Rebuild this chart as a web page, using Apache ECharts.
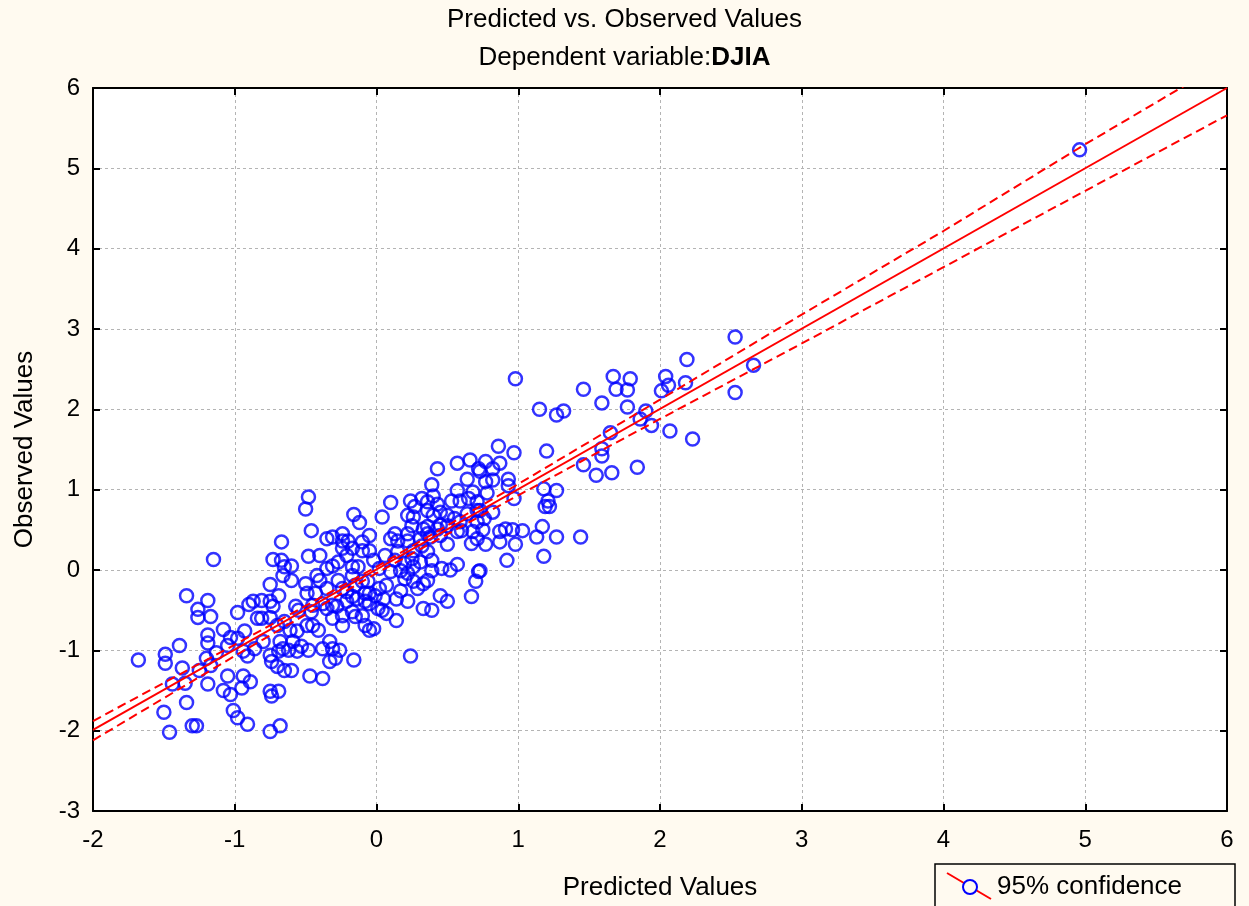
<!DOCTYPE html>
<html><head><meta charset="utf-8">
<script src="https://cdn.jsdelivr.net/npm/echarts@6/dist/echarts.min.js"></script>
<style>html,body{margin:0;padding:0;background:#fffaf0;}#c{width:1249px;height:906px;}</style>
</head><body><div id="c"></div>
<script>
// ---------- DATA ----------
const predicted = [
 -1.15,-0.73,-0.75,-1.34,-1.19,-1.26,-1.26,-1.17,-0.98,-0.90,-0.87,-0.81,-0.75,-0.73,-0.69,-0.81,-0.75,-0.70,-1.08,-0.93,
 -1.03,-1.19,-1.19,-1.39,-1.49,-1.49,-1.68,-1.13,-1.05,-1.20,-1.17,-1.37,-1.44,-1.35,-1.25,-1.19,-1.05,-1.08,-1.03,-0.94,
 -0.95,-0.89,-0.98,-0.94,-0.91,-0.86,-0.80,-0.75,-0.74,-0.69,-0.70,-0.75,-0.74,-0.69,-1.34,-1.50,-1.01,-0.98,-0.91,-1.46,
 -1.30,-1.27,-0.75,-0.68,-0.84,
 -0.48,-0.50,-0.16,-0.12,-0.46,-0.35,-0.31,-0.24,-0.24,-0.20,-0.10,-0.05,-0.05,-0.17,-0.24,-0.21,-0.67,-0.48,-0.40,-0.67,
 -0.65,-0.60,-0.35,-0.31,-0.27,-0.17,-0.13,-0.17,-0.10,-0.02,-0.66,-0.60,-0.50,-0.42,-0.40,-0.35,-0.49,-0.43,-0.27,-0.24,
 -0.21,-0.15,-0.10,-0.06,-0.08,-0.05,-0.57,-0.55,-0.46,-0.45,-0.38,-0.35,-0.31,-0.28,-0.21,-0.17,-0.14,-0.08,-0.05,0.01,
 -0.01,-0.65,-0.61,-0.56,-0.49,-0.45,-0.41,-0.31,-0.24,-0.24,-0.17,-0.15,-0.10,-0.08,-0.05,-0.02,-0.66,-0.62,-0.59,-0.56,
 -0.53,-0.48,-0.38,-0.33,-0.31,-0.26,-0.29,-0.33,-0.16,-0.65,-0.60,-0.47,-0.38,0.14,0.24,-0.68,
 0.57,0.66,0.43,0.72,0.64,0.39,0.40,0.57,0.68,0.10,0.24,0.32,0.36,0.53,0.59,0.45,0.50,0.55,0.64,0.71,
 0.04,0.22,0.26,0.43,0.45,0.33,0.36,0.13,0.22,0.22,0.68,0.67,0.50,0.26,0.32,0.36,0.06,0.13,0.15,0.25,
 0.31,0.39,0.10,0.17,0.22,0.39,0.46,0.52,0.57,0.72,0.70,0.36,0.26,0.29,0.07,0.17,0.14,0.22,0.33,0.39,
 0.45,0.50,0.67,0.04,0.07,
 0.27,0.43,0.65,0.71,0.36,0.40,0.25,0.50,0.59,0.71,0.10,0.15,0.31,0.36,0.38,0.45,0.57,0.60,0.71,0.02,
 0.20,0.26,0.02,0.20,0.33,0.05,
 2.53,2.19,0.98,1.67,1.79,2.04,2.06,2.01,2.18,1.46,1.69,1.77,2.53,1.15,1.27,1.32,1.59,1.77,1.90,1.86,
 1.94,2.07,2.23,1.65,1.59,1.59,1.20,1.46,1.55,1.66,1.84,0.86,0.97,0.77,0.87,0.73,0.93,0.82,0.77,0.78,
 0.97,1.18,1.27,1.21,1.19,1.22,0.82,0.76,0.73,0.75,0.87,0.91,0.96,1.03,1.13,1.17,1.27,1.44,0.77,0.87,
 0.98,0.92,1.18,0.73,2.66,4.96,0.82,0.93
];
const observed = [
 0.13,0.13,-0.18,-0.32,-0.38,-0.49,-0.59,-0.58,-0.53,-0.43,-0.39,-0.38,-0.39,-0.45,-0.32,-0.60,-0.59,-0.69,-0.74,-0.76,
 -0.84,-0.81,-0.91,-0.94,-1.05,-1.16,-1.12,-1.03,-0.94,-1.10,-1.19,-1.22,-1.42,-1.41,-1.25,-1.42,-1.32,-1.50,-1.55,-1.32,
 -1.47,-1.39,-0.85,-1.01,-1.07,-0.98,-0.89,-1.06,-1.14,-1.01,-1.20,-1.51,-1.57,-1.51,-1.65,-1.77,-1.75,-1.84,-1.92,-2.02,
 -1.94,-1.94,-2.01,-1.94,-0.60,
 0.91,0.76,0.69,0.59,0.49,0.39,0.41,0.45,0.36,0.36,0.35,0.43,0.24,0.27,0.27,0.18,0.35,0.17,0.18,0.12,
 0.04,0.05,0.02,0.05,0.10,0.04,0.04,-0.07,0.24,0.12,-0.07,-0.13,-0.17,-0.07,-0.13,-0.23,-0.29,-0.29,-0.13,-0.23,
 -0.27,-0.19,-0.14,-0.14,-0.29,-0.29,-0.45,-0.50,-0.52,-0.44,-0.42,-0.48,-0.44,-0.45,-0.39,-0.33,-0.36,-0.39,-0.42,-0.48,
 -0.32,-0.64,-0.75,-0.76,-0.69,-0.69,-0.75,-0.60,-0.57,-0.69,-0.52,-0.58,-0.57,-0.69,-0.75,-0.73,-0.98,-1.00,-0.89,-1.01,
 -0.95,-1.00,-0.98,-0.89,-0.98,-1.00,-1.10,-1.14,-1.12,-1.25,-1.25,-1.32,-1.35,-0.63,-1.07,-0.89,
 1.33,1.37,1.26,1.26,1.13,1.06,0.92,0.99,0.97,0.84,0.86,0.89,0.85,0.86,0.86,0.72,0.68,0.64,0.70,0.74,
 0.66,0.68,0.66,0.51,0.56,0.51,0.54,0.45,0.45,0.36,0.48,0.33,0.32,0.24,0.30,0.23,0.18,0.12,0.23,0.14,
 0.10,0.12,-0.02,-0.01,-0.04,-0.01,0.02,0.00,0.07,-0.02,-0.14,-0.13,-0.14,-0.23,-0.19,-0.26,-0.36,-0.39,-0.48,-0.50,
 -0.32,-0.39,-0.33,-0.50,-0.54,
 0.79,0.82,0.89,0.85,0.74,0.68,0.55,0.55,0.60,0.60,0.39,0.36,0.39,0.45,0.41,0.43,0.48,0.49,0.39,0.02,
 0.08,0.04,-0.23,-0.11,-0.17,-0.36,
 2.90,2.62,2.38,2.41,2.38,2.41,2.30,2.23,2.33,2.25,2.25,2.24,2.21,2.00,1.93,1.98,2.08,2.03,1.98,1.88,
 1.80,1.73,1.63,1.71,1.51,1.42,1.48,1.31,1.18,1.21,1.28,1.54,1.46,1.35,1.33,1.23,1.13,1.12,1.10,0.96,
 0.89,1.01,0.99,0.86,0.79,0.79,0.72,0.64,0.74,0.50,0.48,0.51,0.50,0.49,0.41,0.54,0.41,0.41,0.32,0.35,
 0.32,0.12,0.17,-0.01,2.55,5.23,1.26,1.05
];
// fitted line (observed = predicted)
const fitX = [-2, 6];
const fitY = [-1.99, 6.0];
// 95% confidence band read at integer predicted values
const bandX = [-2, -1, 0, 1, 2, 3, 4, 5, 6];
const bandUpper = [-1.88, -0.93, 0.04, 1.07, 2.12, 3.18, 4.22, 5.30, 6.34];
const bandLower = [-2.12, -1.07, -0.04, 0.93, 1.88, 2.82, 3.77, 4.72, 5.66];
const xRange = {min: -2, max: 6, interval: 1};
const yRange = {min: -3, max: 6, interval: 1};
const titleText = 'Predicted vs. Observed Values';
const subtitleLabel = 'Dependent variable:';
const subtitleVar = 'DJIA';
const xName = 'Predicted Values';
const yName = 'Observed Values';
const legendText = '95% confidence';

// ---------- CHART ----------
const FONT = '"Liberation Sans", Arial, sans-serif';
const BG = '#fffaf0';
const pts = predicted.map((p, i) => [p, observed[i]]);
const pairs = (xs, ys) => xs.map((x, i) => [x, ys[i]]);

const frameLine = {show: true, onZero: false, lineStyle: {color: '#000', width: 2}};
const tick = {show: true, inside: true, length: 7, lineStyle: {color: '#000', width: 2}};
const grid = {show: true, lineStyle: {color: '#b4b4b4', type: [3, 3], width: 1}};
const lbl = {fontFamily: FONT, fontSize: 24, color: '#000', showMinLabel: true, showMaxLabel: true};

const chart = echarts.init(document.getElementById('c'), null, {renderer: 'canvas'});
chart.setOption({
  backgroundColor: BG,
  animation: false,
  title: {
    text: titleText,
    subtext: subtitleLabel + '{b|' + subtitleVar + '}',
    left: 'center', top: 7, padding: 0, itemGap: 12,
    textStyle: {fontFamily: FONT, fontSize: 26, fontWeight: 'normal', color: '#000'},
    subtextStyle: {fontFamily: FONT, fontSize: 26, color: '#000',
      rich: {b: {fontFamily: FONT, fontSize: 26, fontWeight: 'bold', color: '#000'}}}
  },
  grid: {left: 93, top: 88, width: 1134, height: 725, show: true, backgroundColor: '#fff', borderWidth: 0},
  xAxis: [
    Object.assign({type: 'value', position: 'bottom', name: xName, nameLocation: 'middle', nameGap: 64,
      nameTextStyle: {fontFamily: FONT, fontSize: 26, color: '#000'},
      axisLine: frameLine, axisTick: tick, axisLabel: Object.assign({margin: 17}, lbl), splitLine: grid}, xRange),
    Object.assign({type: 'value', position: 'top', axisLine: frameLine, axisTick: tick,
      axisLabel: {show: false}, splitLine: {show: false}}, xRange)
  ],
  yAxis: [
    Object.assign({type: 'value', position: 'left', name: yName, nameLocation: 'middle', nameGap: 55,
      nameTextStyle: {fontFamily: FONT, fontSize: 26, color: '#000'},
      axisLine: frameLine, axisTick: tick, axisLabel: Object.assign({margin: 13}, lbl), splitLine: grid}, yRange),
    Object.assign({type: 'value', position: 'right', axisLine: frameLine, axisTick: tick,
      axisLabel: {show: false}, splitLine: {show: false}}, yRange)
  ],
  series: [
    {type: 'scatter', data: pts, symbol: 'circle', symbolSize: 13, z: 2,
      itemStyle: {color: 'rgba(0,0,0,0)', borderColor: '#0000ff', borderWidth: 2.5}},
    {type: 'line', data: pairs(fitX, fitY), showSymbol: false, symbol: 'none', clip: true, z: 3,
      lineStyle: {color: '#ff0000', width: 2}},
    {type: 'line', data: pairs(bandX, bandUpper), showSymbol: false, symbol: 'none', clip: true, z: 3,
      lineStyle: {color: '#ff0000', width: 2, type: [9, 5]}},
    {type: 'line', data: pairs(bandX, bandLower), showSymbol: false, symbol: 'none', clip: true, z: 3,
      lineStyle: {color: '#ff0000', width: 2, type: [9, 5]}}
  ],
  graphic: [
    {type: 'rect', shape: {x: 935, y: 864, width: 300, height: 60}, style: {fill: BG, stroke: '#000', lineWidth: 1.5}},
    {type: 'line', shape: {x1: 947, y1: 873, x2: 991, y2: 899}, style: {stroke: '#ff0000', lineWidth: 2}},
    {type: 'circle', shape: {cx: 970, cy: 887, r: 7}, style: {fill: BG, stroke: '#0000ff', lineWidth: 2}},
    {type: 'text', x: 997, y: 887, style: {text: legendText, fontFamily: FONT, fontSize: 26, fill: '#000', verticalAlign: 'middle'}}
  ]
});
</script></body></html>
